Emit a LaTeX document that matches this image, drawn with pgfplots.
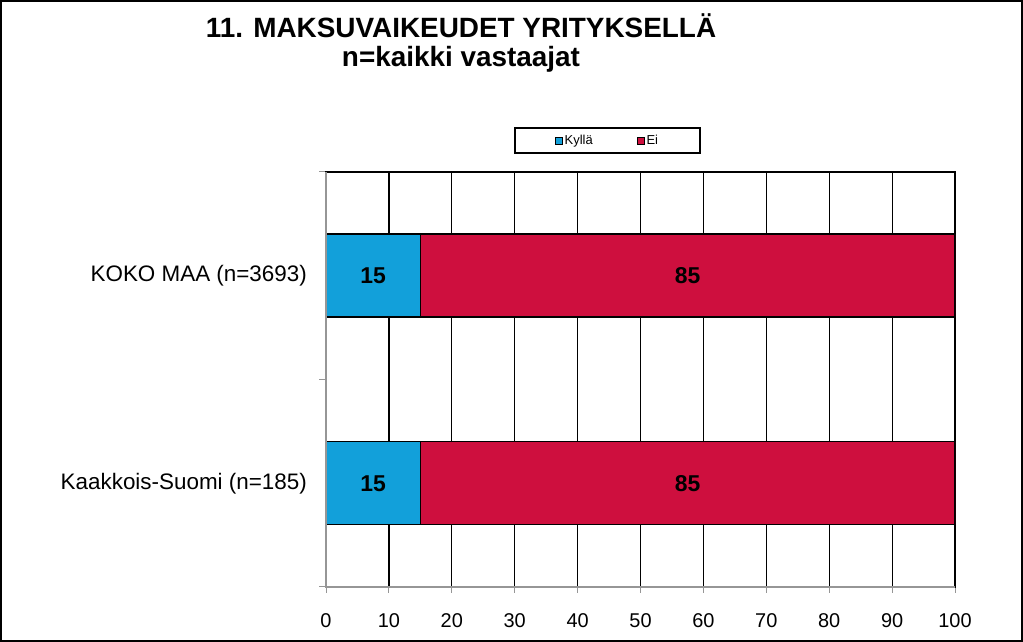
\documentclass[border=0pt]{standalone}
\usepackage{pgfplots}
\pgfplotsset{compat=1.18}
\usepackage{fontspec}
\setmainfont{Liberation Sans}
\definecolor{kylla}{RGB}{18,160,218}
\definecolor{ei}{RGB}{206,15,62}
\definecolor{axisgray}{RGB}{150,150,150}

\begin{document}
\begin{tikzpicture}[x=1bp,y=1bp]
\useasboundingbox (0,0) rectangle (1023,642);
\pgfplotsset{
  common/.style={
    at={(326bp,55bp)}, anchor=south west,
    scale only axis, width=629bp, height=415bp,
    xmin=0, xmax=100, ymin=-0.5, ymax=1.5,
  }
}
\begin{axis}[
  common,
  xbar stacked, bar width=83bp,
  xtick={0,10,...,100},
  ytick={0,1},
  yticklabels={Kaakkois-Suomi (n=185), KOKO MAA (n=3693)},
  minor ytick={-0.5,0.5,1.5},
  xtick pos=bottom, ytick pos=left,
  tick align=outside,
  major tick length=6bp, minor tick length=7bp,
  major y tick style={draw=none},
  minor y tick style={axisgray, line width=1bp},
  major x tick style={axisgray, line width=1bp},
  xmajorgrids,
  major grid style={black, line width=1.2bp},
  axis line style={black, line width=1.2bp},
  /pgf/number format/assume math mode=true,
  yticklabel style={font=\fontsize{22.5}{26}\selectfont, inner sep=0pt, xshift=-13bp},
  xticklabel style={font=\fontsize{20}{24}\selectfont, inner sep=0pt, yshift=-20bp},
  legend style={
    at={(0.4475,1.076)}, anchor=center,
    draw=black, line width=1.5bp,
    font=\fontsize{13}{15}\selectfont,
    inner xsep=40bp, inner ysep=5bp,
    /tikz/every even column/.append style={column sep=42bp},
  },
  legend columns=2,
  legend image code/.code={\draw[#1, draw=black, line width=0.8bp] (0bp,-3.5bp) rectangle (7bp,3.5bp);},
]
\addplot[fill=kylla, draw=black, line width=1.5bp] coordinates {(15,0) (15,1)};
\addplot[fill=ei, draw=black, line width=1.5bp] coordinates {(85,0) (85,1)};
\legend{Kyllä, Ei}
\coordinate (sw) at (rel axis cs:0,0);
\coordinate (nw) at (rel axis cs:0,1);
\coordinate (se) at (rel axis cs:1,0);
\end{axis}
\draw[axisgray, line width=1.2bp] (nw) -- (sw) -- (se);
\begin{axis}[
  common, hide axis,
]
\addplot[only marks, mark=none, point meta=explicit symbolic,
  nodes near coords,
  nodes near coords style={anchor=center, font=\bfseries\fontsize{23}{27}\selectfont}]
  coordinates {(7.5,0) [15] (7.5,1) [15] (57.5,0) [85] (57.5,1) [85]};
\end{axis}
\node[anchor=base, font=\bfseries\fontsize{28}{32}\selectfont] at (461,604) {11. MAKSUVAIKEUDET YRITYKSELLÄ};
\node[anchor=base, font=\bfseries\fontsize{28}{32}\selectfont] at (461,575) {n=kaikki vastaajat};
\draw[line width=2bp] (1,1) rectangle (1022,641);
\end{tikzpicture}
\end{document}
